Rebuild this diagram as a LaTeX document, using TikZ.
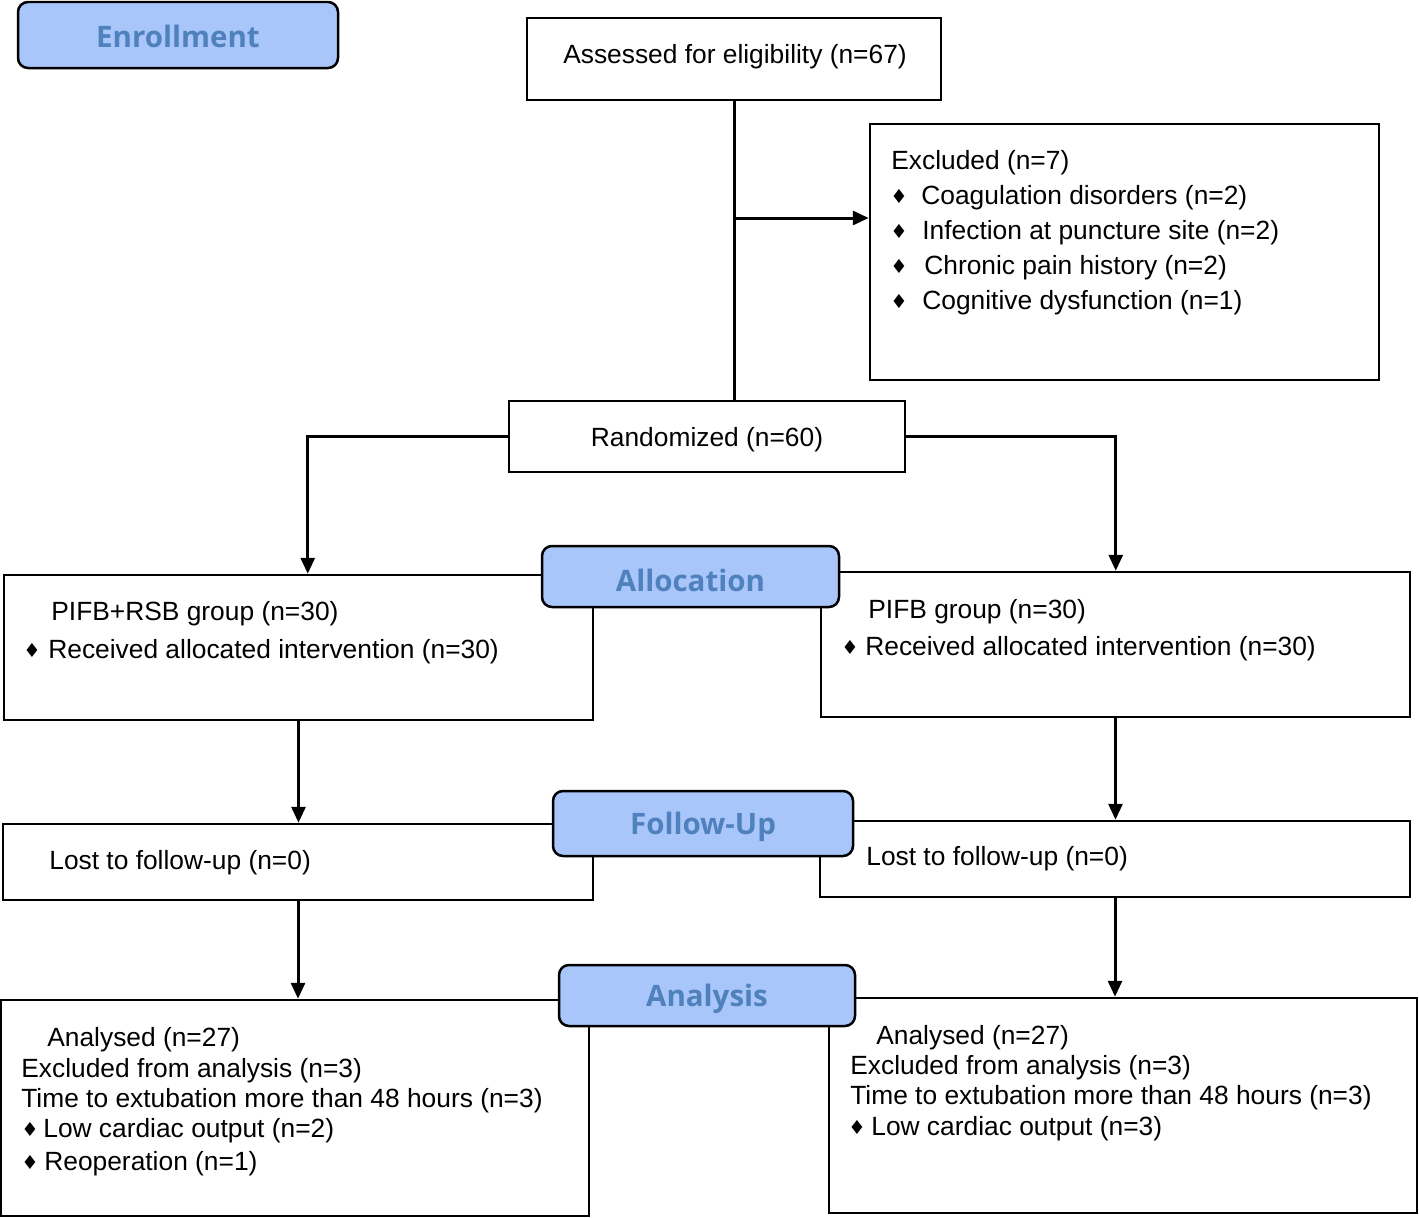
\documentclass[tikz,border=0pt]{standalone}
\usepackage{fontspec}
\setmainfont{Liberation Sans}
\newfontfamily\lblfont{Open Sans}
\newfontfamily\symfont{DejaVu Sans}
\usetikzlibrary{arrows.meta,fit,calc}
\definecolor{lblfill}{RGB}{169,198,250}
\definecolor{lbltext}{RGB}{79,129,189}
\begin{document}
\begin{tikzpicture}[x=0.02cm,y=-0.02cm,
 box/.style={draw=black, line width=0.05cm, fill=white, inner sep=0pt},
 stage/.style={draw=black, line width=0.05cm, fill=lblfill, rounded corners=0.2cm, inner sep=0pt},
 stagetxt/.style={inner sep=0pt, yshift=-0.07cm, text=lbltext, font=\lblfont\bfseries\fontsize{16.8}{19}\selectfont},
 txt/.style={anchor=base west, inner sep=0pt, font=\fontsize{15}{18}\selectfont},
 bul/.style={inner sep=0pt, yshift=-0.04cm, font=\symfont\fontsize{11}{12}\selectfont},
 conn/.style={line width=0.06cm},
 arr/.style={conn, -{Triangle[length=0.32cm,width=0.28cm]}}]
\useasboundingbox (0,0) rectangle (1419,1217);

% boxes
\node[box, fit={(527,18) (941,100)}] (assess) {};
\node[txt, anchor=base] (assesst) at (735,63) {Assessed for eligibility (n=67)};
\node[box, fit={(870,124) (1379,380)}] (excl) {};
\node[box, fit={(509,401) (905,472)}] (rand) {};
\node[txt, anchor=base] (randt) at (707,446) {Randomized (n=60)};
\node[box, fit={(4,575) (593,720)}] (g1) {};
\node[box, fit={(821,572) (1410,717)}] (g2) {};
\node[box, fit={(3,824) (593,900)}] (l1) {};
\node[box, fit={(820,821) (1410,897)}] (l2) {};
\node[box, fit={(1,1000) (589,1216)}] (an1) {};
\node[box, fit={(829,998) (1417,1213)}] (an2) {};

% excluded texts
\node[txt] (ex0) at (891,169) {Excluded (n=7)};
\node[bul] (exb1) at (899,194) {♦};
\node[txt] (ex1) at (921,204) {Coagulation disorders (n=2)};
\node[bul] (exb2) at (899,229) {♦};
\node[txt] (ex2) at (922,239) {Infection at puncture site (n=2)};
\node[bul] (exb3) at (899,264) {♦};
\node[txt] (ex3) at (924,274) {Chronic pain history (n=2)};
\node[bul] (exb4) at (899,299) {♦};
\node[txt] (ex4) at (922,309) {Cognitive dysfunction (n=1)};

% allocation texts
\node[txt] (g1a) at (51,620) {PIFB+RSB group (n=30)};
\node[bul] (g1b) at (32,648) {♦};
\node[txt] (g1c) at (48,658) {Received allocated intervention (n=30)};
\node[txt] (g2a) at (868,618) {PIFB group (n=30)};
\node[bul] (g2b) at (850,645) {♦};
\node[txt] (g2c) at (865,655) {Received allocated intervention (n=30)};

% follow-up texts
\node[txt] (l1a) at (49,869) {Lost to follow-up (n=0)};
\node[txt] (l2a) at (866,865) {Lost to follow-up (n=0)};

% analysis texts
\node[txt] (a1a) at (47,1046) {Analysed (n=27)};
\node[txt] (a1b) at (21,1077) {Excluded from analysis (n=3)};
\node[txt] (a1c) at (21,1107) {Time to extubation more than 48 hours (n=3)};
\node[bul] (a1d) at (30,1127) {♦};
\node[txt] (a1e) at (43,1137) {Low cardiac output (n=2)};
\node[bul] (a1f) at (30,1160) {♦};
\node[txt] (a1g) at (44,1170) {Reoperation (n=1)};
\node[txt] (a2a) at (876,1044) {Analysed (n=27)};
\node[txt] (a2b) at (850,1074) {Excluded from analysis (n=3)};
\node[txt] (a2c) at (850,1104) {Time to extubation more than 48 hours (n=3)};
\node[bul] (a2d) at (857,1125) {♦};
\node[txt] (a2e) at (871,1135) {Low cardiac output (n=3)};

% connectors
\draw[conn] (assess.south) -- (assess.south |- rand.north);
\coordinate (br) at (735,218);
\draw[arr] (br) -- (br -| excl.west);
\draw[arr] (rand.west) -| ($(g1.north west)+(305,0)$);
\draw[arr] (rand.east) -| ($(g2.north west)+(296,0)$);
\draw[arr] (g1.south) -- (g1.south |- l1.north);
\draw[arr] (g2.south) -- (g2.south |- l2.north);
\draw[arr] (l1.south) -- (l1.south |- an1.north);
\draw[arr] (l2.south) -- (l2.south |- an2.north);

% stage labels
\node[stage, fit={(18,2) (338,68)}] (enr) {};
\node[stagetxt, yshift=0.05cm] (enrt) at (enr.center) {Enrollment};
\node[stage, fit={(542,546) (839,607)}] (alloc) {};
\node[stagetxt] (alloct) at (alloc.center) {Allocation};
\node[stage, fit={(553,791) (853,856)}] (fol) {};
\node[stagetxt] (folt) at (fol.center) {Follow-Up};
\node[stage, fit={(559,965) (855,1026)}] (ana) {};
\node[stagetxt] (anat) at (ana.center) {Analysis};
\end{tikzpicture}
\end{document}
